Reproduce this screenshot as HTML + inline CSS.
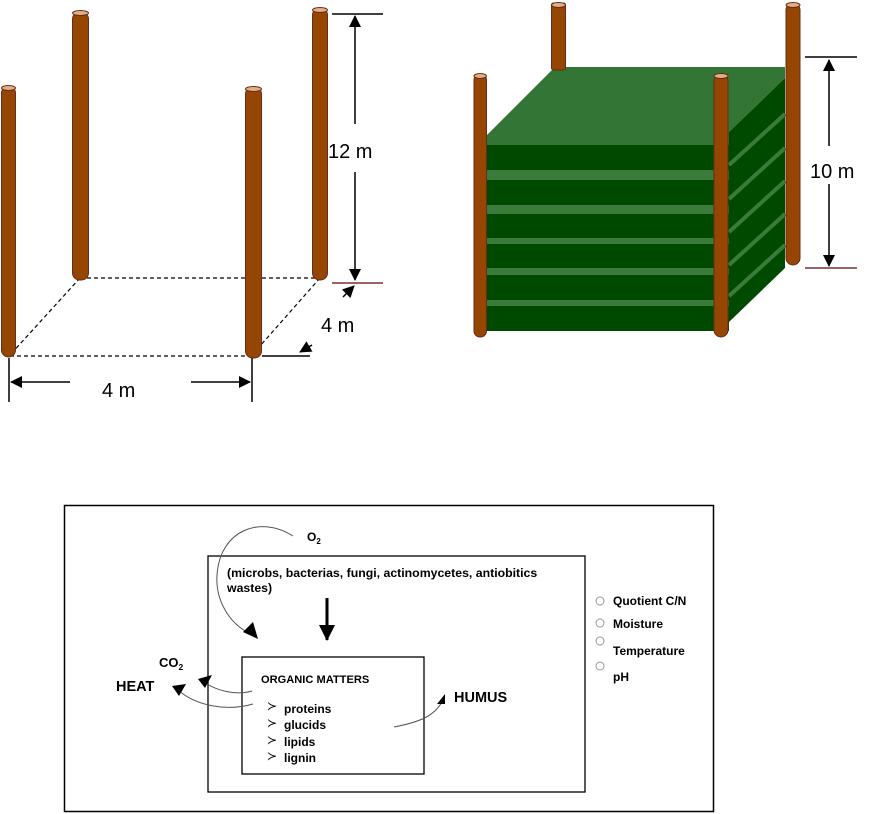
<!DOCTYPE html>
<html><head><meta charset="utf-8"><style>html,body{margin:0;padding:0;background:#fff}svg{display:block}</style></head>
<body>
<svg width="878" height="814" viewBox="0 0 878 814" xmlns="http://www.w3.org/2000/svg">
<defs>
<marker id="ah" markerWidth="12" markerHeight="12" refX="11" refY="6" orient="auto" markerUnits="userSpaceOnUse"><path d="M0,0 L12,6 L0,12 z" fill="#000"/></marker>
<marker id="ab" markerWidth="16" markerHeight="16" refX="15" refY="8" orient="auto" markerUnits="userSpaceOnUse"><path d="M0,0 L16,8 L0,16 z" fill="#000"/></marker>
</defs>
<g stroke="#000" stroke-width="1.2" stroke-dasharray="4,3" fill="none">
<line x1="80" y1="278" x2="320" y2="278"/><line x1="80" y1="278" x2="10" y2="355"/>
<line x1="320" y1="278" x2="252" y2="355"/><line x1="10" y1="356" x2="252" y2="356"/>
</g>
<g fill="#964603" stroke="#6b2a1a" stroke-width="1">
<rect x="1.5" y="86" width="14" height="271" rx="7"/><ellipse cx="8.5" cy="88" rx="7" ry="2.5" fill="#e0b080"/>
<rect x="72.5" y="12" width="16" height="268" rx="7"/><ellipse cx="80.5" cy="13" rx="8" ry="2.5" fill="#e0b080"/>
<rect x="245.5" y="87" width="16" height="271" rx="7"/><ellipse cx="253.5" cy="89" rx="8" ry="2.5" fill="#e0b080"/>
<rect x="312.5" y="8" width="15" height="272" rx="7"/><ellipse cx="320" cy="10" rx="7.5" ry="2.5" fill="#e0b080"/>
</g>
<g stroke="#000" stroke-width="1.5" fill="none">
<line x1="332" y1="14" x2="383" y2="14"/>
<line x1="355" y1="16" x2="355" y2="124" marker-end="url(#ah)" transform="rotate(180 355 70)"/>
<line x1="355" y1="172" x2="355" y2="280" marker-end="url(#ah)"/>
<line x1="9" y1="358" x2="9" y2="402"/><line x1="252" y1="358" x2="252" y2="402"/>
<line x1="70" y1="382" x2="11" y2="382" marker-end="url(#ah)"/>
<line x1="191" y1="382" x2="250" y2="382" marker-end="url(#ah)"/>
<line x1="343" y1="297" x2="354" y2="286" marker-end="url(#ah)"/>
<line x1="262" y1="356" x2="310" y2="356"/>
<line x1="312" y1="345" x2="300" y2="352" marker-end="url(#ah)"/>
</g>
<line x1="332" y1="283" x2="383" y2="283" stroke="#7a3030" stroke-width="1.5"/>
<g font-family="Liberation Sans, sans-serif" font-size="20" fill="#000">
<text x="328" y="158">12 m</text><text x="321" y="332">4 m</text><text x="102" y="397">4 m</text>
<text x="810" y="178">10 m</text>
</g>
<polygon points="487,135 555,67 785,67 785,78 729,132 729,145 487,145" fill="#337535"/>
<rect x="487" y="145" width="242" height="186" fill="#004a00"/>
<polygon points="729,132 785,78 785,268 729,322" fill="#004a00"/>
<g fill="#3a7a3a">
<rect x="487" y="170" width="242" height="10"/><rect x="487" y="205" width="242" height="9"/>
<rect x="487" y="238" width="242" height="6"/><rect x="487" y="268" width="242" height="7"/>
<rect x="487" y="300" width="242" height="6"/>
</g>
<g stroke="#3a7a3a" stroke-width="4">
<line x1="729" y1="165" x2="785" y2="114"/><line x1="729" y1="199" x2="785" y2="148"/>
<line x1="729" y1="232" x2="785" y2="181"/><line x1="729" y1="265" x2="785" y2="214"/>
<line x1="729" y1="296" x2="785" y2="245"/>
</g>
<g fill="#964603" stroke="#6b2a1a" stroke-width="1">
<rect x="551.5" y="3" width="14" height="67" rx="2"/><ellipse cx="558.5" cy="5" rx="7" ry="2.5" fill="#e0b080"/>
<rect x="474" y="74" width="12.5" height="263" rx="6"/><ellipse cx="480.2" cy="76" rx="6.2" ry="2.5" fill="#e0b080"/>
<rect x="714" y="74" width="14" height="263" rx="7"/><ellipse cx="721" cy="76" rx="7" ry="2.5" fill="#e0b080"/>
<rect x="786" y="3" width="14" height="262" rx="7"/><ellipse cx="793" cy="5" rx="7" ry="2.5" fill="#e0b080"/>
</g>
<g stroke="#000" stroke-width="1.5">
<line x1="805" y1="57" x2="857" y2="57"/>
<line x1="829" y1="146" x2="829" y2="60" marker-end="url(#ah)"/>
<line x1="829" y1="184" x2="829" y2="266" marker-end="url(#ah)"/>
</g>
<line x1="805" y1="268" x2="857" y2="268" stroke="#7a3030" stroke-width="1.5"/>
<g fill="none" stroke="#000">
<rect x="64.5" y="505.5" width="649" height="306" stroke-width="1.5"/>
<rect x="208" y="556" width="377" height="236" stroke-width="1.3"/>
<rect x="242" y="657" width="182" height="117" stroke-width="1.3"/>
</g>
<g fill="none" stroke="#555" stroke-width="1">
<path d="M293,536 C260,515 220,530 217,575 C215,605 235,628 250,633"/>
<path d="M252,691 C235,696 215,690 204,682"/>
<path d="M253,704 C225,712 195,705 178,690"/>
<path d="M394,727 C420,722 435,716 443,700"/>
</g>
<g fill="#000">
<polygon points="258,639 243,632 253,622"/>
<polygon points="198,679 212,675 205,688"/>
<polygon points="172,686 186,684 179,696"/>
<polygon points="445,694 445,704 437,704"/>
</g>
<line x1="327" y1="598" x2="327" y2="640" stroke="#000" stroke-width="3" marker-end="url(#ab)"/>
<g font-family="Liberation Sans, Arial, sans-serif" font-weight="bold" fill="#000">
<text x="307" y="541" font-size="12">O<tspan font-size="8" dy="3">2</tspan></text>
<text x="227" y="577" font-size="12.3">(microbs, bacterias, fungi, actinomycetes, antiobitics</text>
<text x="227" y="592" font-size="12.3">wastes)</text>
<text x="159" y="667" font-size="13">CO<tspan font-size="8.5" dy="3">2</tspan></text>
<text x="116" y="691" font-size="14.5">HEAT</text>
<text x="261" y="683" font-size="11.1">ORGANIC MATTERS</text>
<text x="284" y="713" font-size="12">proteins</text>
<text x="284" y="729" font-size="12">glucids</text>
<text x="284" y="746" font-size="12">lipids</text>
<text x="284" y="762" font-size="12">lignin</text>
<text x="454" y="702" font-size="14.5">HUMUS</text>
<text x="613" y="605" font-size="12">Quotient C/N</text>
<text x="613" y="628" font-size="12">Moisture</text>
<text x="613" y="655" font-size="12">Temperature</text>
<text x="613" y="681" font-size="12">pH</text>
</g>
<g font-family="DejaVu Sans, sans-serif" font-size="12" fill="#000">
<text x="267" y="710">&#x227B;</text><text x="267" y="727">&#x227B;</text><text x="267" y="744">&#x227B;</text><text x="267" y="760">&#x227B;</text>
</g>
<g fill="none" stroke="#999" stroke-width="1">
<circle cx="600" cy="601" r="4"/><circle cx="600" cy="623" r="4"/><circle cx="600" cy="641" r="4"/><circle cx="600" cy="666" r="4"/>
</g>
</svg>
</body></html>
